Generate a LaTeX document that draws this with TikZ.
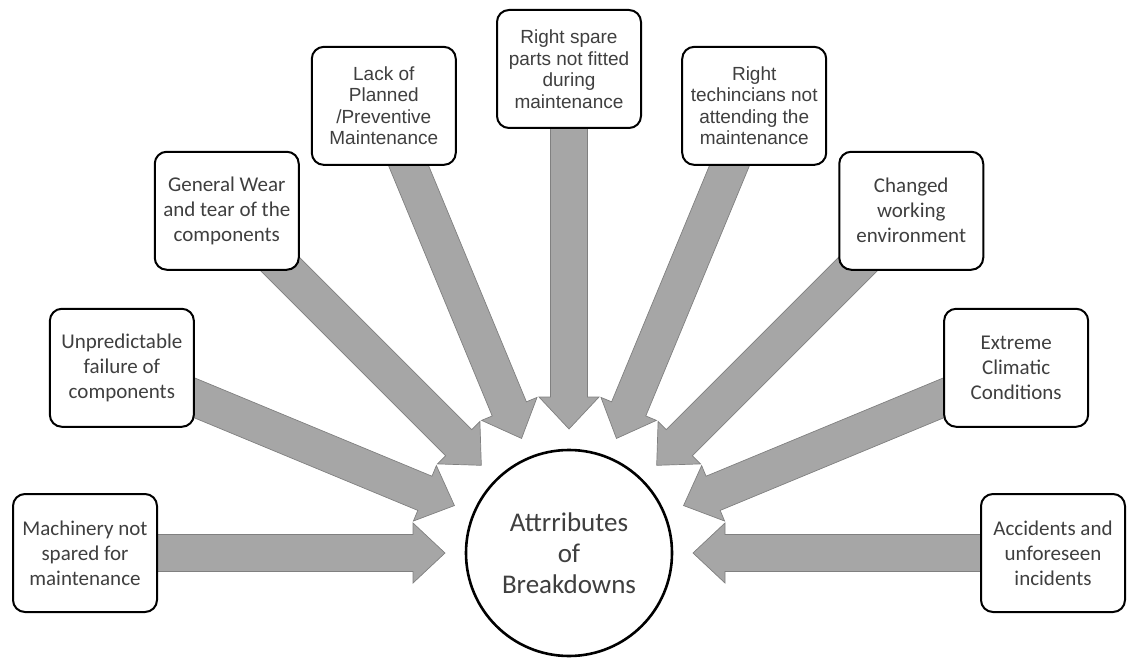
\documentclass[tikz,border=0pt]{standalone}
\usepackage{fontspec}
\setmainfont{Carlito}
\newfontfamily\arialfont{Liberation Sans}
\usetikzlibrary{calc}
\definecolor{arrowfill}{HTML}{A6A6A6}
\definecolor{arrowedge}{HTML}{808080}
\definecolor{txt}{HTML}{3F3F3F}
\pgfdeclarelayer{bg}
\pgfsetlayers{bg,main}
\begin{document}
\begin{tikzpicture}[x=1pt,y=-1pt,
  cause/.style={draw=black, line width=2pt, rounded corners=12pt, fill=white,
    minimum width=144pt, minimum height=118pt, inner sep=2pt, align=center,
    text=txt, font=\fontsize{21}{25}\selectfont},
  dense/.style={font=\arialfont\fontsize{19}{21.5}\selectfont},
  hubnode/.style={circle, draw=black, line width=2.6pt, fill=white,
    minimum size=206pt, inner sep=0pt, align=center, text=txt,
    font=\fontsize{27}{31}\selectfont},
  blockarrow/.style={fill=arrowfill, draw=arrowedge, line width=0.7pt, line join=miter,
    to path={
      -- ($(\tikztostart)!18.5pt!90:(\tikztotarget)$)
      -- ($(\tikztotarget)!32pt!(\tikztostart)!18.5pt!-90:(\tikztostart)$)
      -- ($(\tikztotarget)!32pt!(\tikztostart)!30pt!-90:(\tikztostart)$)
      -- (\tikztotarget)
      -- ($(\tikztotarget)!32pt!(\tikztostart)!30pt!90:(\tikztostart)$)
      -- ($(\tikztotarget)!32pt!(\tikztostart)!18.5pt!90:(\tikztostart)$)
      -- ($(\tikztostart)!18.5pt!-90:(\tikztotarget)$)
      -- cycle}}
]
\useasboundingbox (0,0) rectangle (1127,660);

% central topic
\node[hubnode] (hub) at (569,553) {Attrributes\\of\\Breakdowns};

% causes arranged on a half ring around the topic
\node[cause] (b1) at ($(hub.center)+(180:484pt)$) {Machinery not\\spared for\\maintenance};
\node[cause] (b2) at ($(hub.center)+(157.5:484pt)$) {Unpredictable\\failure of\\components};
\node[cause] (b3) at ($(hub.center)+(135:484pt)$) {General Wear\\and tear of the\\components};
\node[cause,dense] (b4) at ($(hub.center)+(112.5:484pt)$) {Lack of\\Planned\\/Preventive\\Maintenance};
\node[cause,dense] (b5) at ($(hub.center)+(90:484pt)$) {Right spare\\parts not fitted\\during\\maintenance};
\node[cause,dense] (b6) at ($(hub.center)+(67.5:484pt)$) {Right\\techincians not\\attending the\\maintenance};
\node[cause] (b7) at ($(hub.center)+(45:484pt)$) {Changed\\working\\environment};
\node[cause] (b8) at ($(hub.center)+(22.5:484pt)$) {Extreme\\Climatic\\Conditions};
\node[cause] (b9) at ($(hub.center)+(0:484pt)$) {Accidents and\\unforeseen\\incidents};

% arrow tips stop short of the circle
\foreach \i in {1,...,9}{
  \coordinate (t\i) at ($(hub.center)!124pt!(b\i.center)$);
}

\begin{pgfonlayer}{bg}
  \foreach \i in {1,...,9}{
    \draw[blockarrow] (b\i.center) to (t\i);
  }
\end{pgfonlayer}
\end{tikzpicture}
\end{document}
